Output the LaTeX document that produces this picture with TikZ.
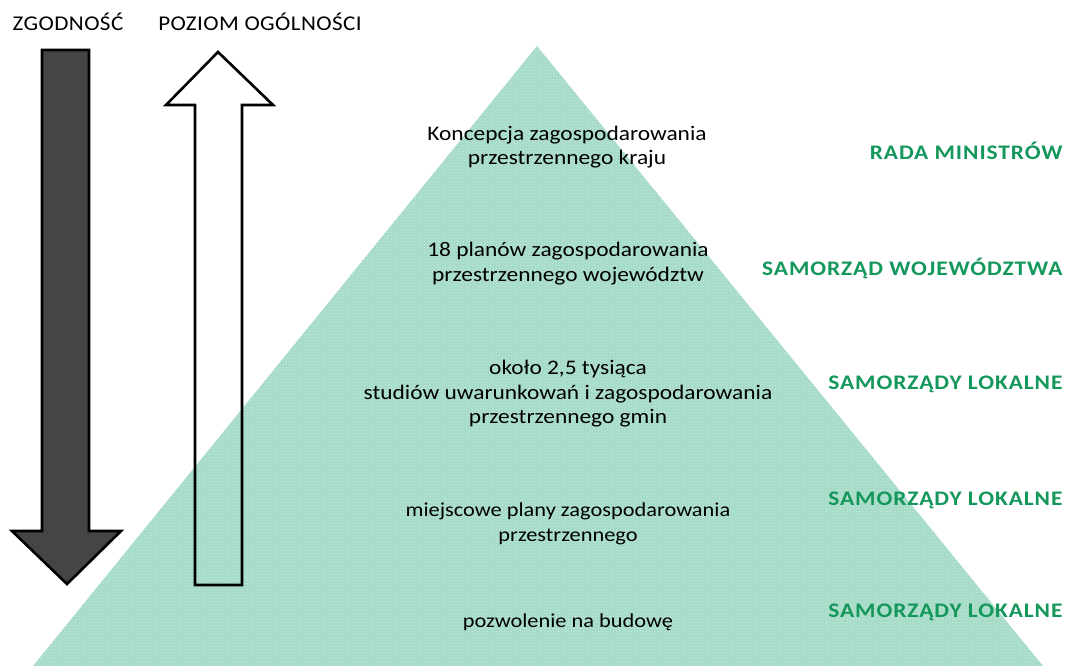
\documentclass[tikz,border=0pt]{standalone}
\usepackage{fontspec}
\setmainfont[FakeStretch=1.13]{Carlito}
\newfontfamily\spacedbold[FakeStretch=1.13,LetterSpace=4.5]{Carlito}
\newfontfamily\spacedhead[FakeStretch=1.1,LetterSpace=2]{Carlito}
\usetikzlibrary{patterns}
\definecolor{mint}{HTML}{A4DBC7}
\definecolor{leaf}{HTML}{14975B}
\definecolor{slate}{HTML}{454545}
\tikzset{
  level/.style={align=center,font=\fontsize{20.7}{24.5}\selectfont},
  minor/.style={level,font=\fontsize{19.8}{25}\selectfont},
  owner/.style={anchor=east,text=leaf,font=\fontsize{20.7}{23}\spacedbold\bfseries},
  header/.style={font=\fontsize{21}{23}\spacedhead},
  bigarrow/.style={draw=black,line width=2.6pt,line join=miter}}
\begin{document}
\begin{tikzpicture}[x=1pt,y=-1pt]
\useasboundingbox (0,0) rectangle (1073,666);
% pyramid
\fill[mint] (537,46) -- (1043,666) -- (33,666) -- cycle;
\fill[pattern=crosshatch dots,pattern color=white,opacity=.45] (537,46) -- (1043,666) -- (33,666) -- cycle;
% arrows
\draw[bigarrow,fill=slate] (42,50) -- (89,50) -- (89,531) -- (121,531) -- (67,584) -- (12,531) -- (42,531) -- cycle;
\draw[bigarrow] (218,52) -- (273,105) -- (242,105) -- (242,585) -- (195,585) -- (195,105) -- (166,105) -- cycle;
\node[header] (zg) at (68,22) {ZGODNOŚĆ};
\node[header] (po) at (260,22) {POZIOM OGÓLNOŚCI};
% levels
\node[level] (kraj) at (567,147) {Koncepcja zagospodarowania\\przestrzennego kraju};
\node[level] (woj) at (568,263.5) {18 planów zagospodarowania\\przestrzennego województw};
\node[level] (gmin) at (568,394) {około 2,5 tysiąca\\studiów uwarunkowań i zagospodarowania\\przestrzennego gmin};
\node[minor] (mpzp) at (568,524) {miejscowe plany zagospodarowania\\przestrzennego};
\node[minor] (bud) at (568,622) {pozwolenie na budowę};
% owners
\node[owner] (rm) at (1066,151) {RADA MINISTRÓW};
\node[owner] (sw) at (1066,268) {SAMORZĄD WOJEWÓDZTWA};
\foreach \y/\n in {384/a,500/b,612/c}
  \node[owner] (sl\n) at (1066,\y) {SAMORZĄDY LOKALNE};
\end{tikzpicture}
\end{document}
